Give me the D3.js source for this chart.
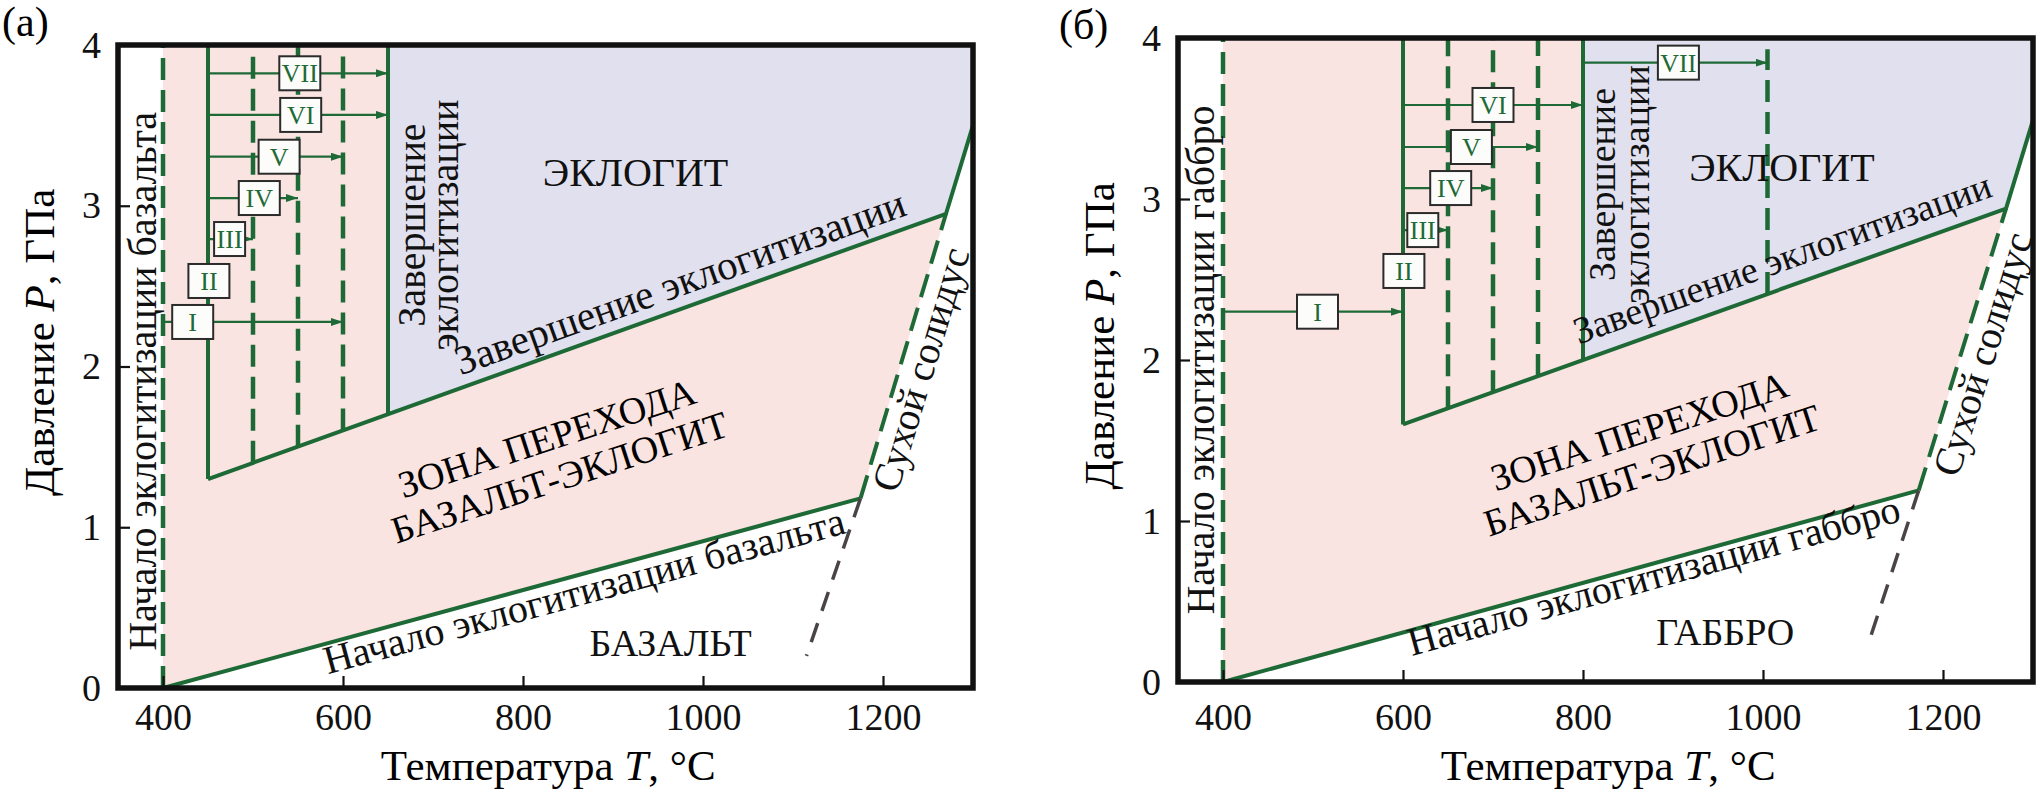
<!DOCTYPE html>
<html><head><meta charset="utf-8">
<script src="https://cdn.jsdelivr.net/npm/d3@7"></script>
<style>
body{margin:0;background:#fff;}
svg{display:block;}
text{font-family:"Liberation Serif","Times New Roman",serif;}
</style></head><body>
<svg id="chart" width="2041" height="806"></svg>
<script>
// ================= DATA =================
const xTicks = [400, 600, 800, 1000, 1200];
const yTicks = [0, 1, 2, 3, 4];
const tDomain = [350, 1300];
const pDomain = [0, 4];
const stepLabels = ["I", "II", "III", "IV", "V", "VI", "VII"];

// Panel (а) — basalt
const aOnsetT = 400;
const aStartLine = [[400, 0], [1175, 1.18]];
const aEndLine = [[450, 1.3], [1270, 2.95], [1300, 3.5]];
const aWetSolidus = [[1175, 1.18], [1270, 2.95]];
const aDrySolidus = [[1175, 1.18], [1115, 0.2]];
const aBoxSolidT = [450, 650];
const aBoxDashedT = [500, 550, 600];
const aStepP = [2.277, 2.532, 2.793, 3.048, 3.305, 3.565, 3.824];
const aStepFrom = [400, null, 450, 450, 450, 450, 450];
const aStepTo = [600, null, 500, 550, 600, 650, 650];
const aStepBoxT = [433, 451, 474, 507, 529, 553, 552];

// Panel (б) — gabbro
const bOnsetT = 400;
const bStartLine = [[400, 0], [1173, 1.19]];
const bEndLine = [[600, 1.6], [1270, 2.94], [1300, 3.49]];
const bWetSolidus = [[1173, 1.19], [1270, 2.94]];
const bDrySolidus = [[1173, 1.19], [1116, 0.22]];
const bBoxSolidT = [600, 800];
const bBoxDashedT = [650, 700, 750];
const bExtraDashedT = [1005];
const bExtraDashedTopP = [3.93];
const bStepP = [2.30, 2.553, 2.807, 3.068, 3.323, 3.584, 3.847];
const bStepFrom = [400, null, 600, 600, 600, 600, 800];
const bStepTo = [600, null, 650, 700, 750, 800, 1005];
const bStepBoxT = [505, 601, 622, 653, 676, 700, 906];

// ================= STYLE / LAYOUT =================
const GREEN = "#1e6a37", PINK = "#fae4e1", LAV = "#e1e0ee", GRAY = "#4b4446", INK = "#111";

const panels = [
  {
    left: 118, right: 973, bottom: 688, top: 45, xPad: 15,
    tag: "(а)", tagX: 2, tagY: 36,
    onsetT: aOnsetT, startLine: aStartLine, endLine: aEndLine, wet: aWetSolidus, dry: aDrySolidus,
    boxSolidT: aBoxSolidT, boxDashedT: aBoxDashedT, extraT: [], extraTop: [],
    stepP: aStepP, stepFrom: aStepFrom, stepTo: aStepTo, stepBoxT: aStepBoxT,
    rock: "БАЗАЛЬТ", rockAt: [964, 0.2], eclAt: [925, 3.12],
    onsetText: "Начало эклогитизации базальта", onsetPc: 1.907, onsetDx: -7,
    completeVertPc: 2.88, completeVertDx: [37, 70], completeVertSize: 40,
    completeDiagT: 984, completeDiagOff: -12, completeDiagSize: 41,
    startDiagT: 863, startDiagOff: 30,
    zoneAt: [838, 1.356], solidusT: 1220
  },
  {
    left: 1178, right: 2033, bottom: 682, top: 38, xPad: 21,
    tag: "(б)", tagX: 1059, tagY: 39,
    onsetT: bOnsetT, startLine: bStartLine, endLine: bEndLine, wet: bWetSolidus, dry: bDrySolidus,
    boxSolidT: bBoxSolidT, boxDashedT: bBoxDashedT, extraT: bExtraDashedT, extraTop: bExtraDashedTopP,
    stepP: bStepP, stepFrom: bStepFrom, stepTo: bStepTo, stepBoxT: bStepBoxT,
    rock: "ГАББРО", rockAt: [958, 0.23], eclAt: [1021, 3.11],
    onsetText: "Начало эклогитизации габбро", onsetPc: 2.0, onsetDx: -9,
    completeVertPc: 3.09, completeVertDx: [32, 66], completeVertSize: 38,
    completeDiagT: 1032, completeDiagOff: -16, completeDiagSize: 38,
    startDiagT: 875, startDiagOff: 25,
    zoneAt: [874, 1.36], solidusT: 1222
  }
];

const svg = d3.select("#chart");
svg.append("rect").attr("width", 2041).attr("height", 806).attr("fill", "#fff");
const defs = svg.append("defs");
defs.append("marker").attr("id", "arr").attr("viewBox", "0 0 12 8")
  .attr("refX", 12).attr("refY", 4).attr("markerWidth", 12).attr("markerHeight", 8)
  .attr("markerUnits", "userSpaceOnUse").attr("orient", "auto")
  .append("path").attr("d", "M0,0L12,4L0,8Z").attr("fill", GREEN);

function interp(line, t) {
  for (let i = 0; i < line.length - 1; i++) {
    const [t0, p0] = line[i], [t1, p1] = line[i + 1];
    if (t >= t0 && t <= t1) return p0 + (p1 - p0) * (t - t0) / (t1 - t0);
  }
  const [t0, p0] = line[0], [t1, p1] = line[1];
  return p0 + (p1 - p0) * (t - t0) / (t1 - t0);
}

function drawPanel(c) {
  const sx = d3.scaleLinear().domain(tDomain).range([c.left, c.right]);
  const sy = d3.scaleLinear().domain(pDomain).range([c.bottom, c.top]);
  const g = svg.append("g");
  const path = d3.line().x(d => sx(d[0])).y(d => sy(d[1]));
  const endAt = t => interp(c.endLine, t);
  const tR = c.boxSolidT[1];
  const corner = c.wet[1];

  // regions
  const pinkPoly = [c.startLine[0], [c.onsetT, pDomain[1]], [tR, pDomain[1]], [tR, endAt(tR)], corner, c.wet[0]];
  const lavPoly = [[tR, pDomain[1]], [tDomain[1], pDomain[1]], c.endLine[c.endLine.length - 1], corner, [tR, endAt(tR)]];
  g.append("path").attr("d", path(pinkPoly) + "Z").attr("fill", PINK);
  g.append("path").attr("d", path(lavPoly) + "Z").attr("fill", LAV);

  const solid = (pts, w = 4) => g.append("path").attr("d", path(pts)).attr("fill", "none")
    .attr("stroke", GREEN).attr("stroke-width", w).attr("stroke-linejoin", "round");
  const dashed = (pts, col = GREEN, w = 4.5, dash = "22,10") => g.append("path").attr("d", path(pts))
    .attr("fill", "none").attr("stroke", col).attr("stroke-width", w).attr("stroke-dasharray", dash);

  dashed([[c.onsetT, pDomain[0]], [c.onsetT, pDomain[1]]]);
  c.boxDashedT.forEach(t => dashed([[t, endAt(t)], [t, pDomain[1]]]));
  c.extraT.forEach((t, i) => dashed([[t, endAt(t)], [t, c.extraTop[i]]]));
  c.boxSolidT.forEach(t => solid([[t, endAt(t)], [t, pDomain[1]]]));
  solid(c.startLine);
  solid(c.endLine);
  dashed(c.wet, GREEN, 4, "24,11");
  dashed(c.dry, GRAY, 3.5, "20,13");

  // step arrows
  stepLabels.forEach((lab, i) => {
    if (c.stepFrom[i] == null) return;
    g.append("path").attr("d", path([[c.stepFrom[i], c.stepP[i]], [c.stepTo[i], c.stepP[i]]]))
      .attr("stroke", GREEN).attr("stroke-width", 2.2).attr("fill", "none")
      .attr("marker-end", "url(#arr)");
  });
  stepLabels.forEach((lab, i) => {
    const w = lab === "III" ? 31 : 41, h = 34;
    const cx = sx(c.stepBoxT[i]), cy = sy(c.stepP[i]);
    g.append("rect").attr("x", cx - w / 2).attr("y", cy - h / 2).attr("width", w).attr("height", h)
      .attr("fill", "#fcfcfa").attr("stroke", "#2b2b2b").attr("stroke-width", 2);
    g.append("text").attr("x", cx).attr("y", cy + 9).attr("text-anchor", "middle")
      .attr("font-size", 26).attr("fill", GREEN)
      .attr("textLength", lab === "III" ? 26 : null).attr("lengthAdjust", "spacingAndGlyphs")
      .text(lab);
  });

  // axes
  const fmt = d3.format("d");
  const xa = g.append("g").attr("transform", `translate(0,${c.bottom})`)
    .call(d3.axisBottom(sx).tickValues(xTicks).tickFormat(fmt).tickSizeInner(-12).tickSizeOuter(0).tickPadding(c.xPad));
  const ya = g.append("g").attr("transform", `translate(${c.left},0)`)
    .call(d3.axisLeft(sy).tickValues(yTicks).tickFormat(fmt).tickSizeInner(-12).tickSizeOuter(0).tickPadding(17));
  [xa, ya].forEach(a => {
    a.select(".domain").remove();
    a.attr("font-family", "Liberation Serif, serif").attr("font-size", 38).attr("color", INK);
    a.selectAll("line").attr("stroke-width", 2.2);
  });
  g.append("rect").attr("x", c.left).attr("y", c.top).attr("width", c.right - c.left)
    .attr("height", c.bottom - c.top).attr("fill", "none").attr("stroke", INK).attr("stroke-width", 5.5);

  // axis titles
  const xt = g.append("text").attr("x", sx(828)).attr("y", 780).attr("text-anchor", "middle").attr("font-size", 43);
  xt.append("tspan").text("Температура ");
  xt.append("tspan").attr("font-style", "italic").text("T");
  xt.append("tspan").text(", °C");
  const yt = g.append("text").attr("transform", `translate(${c.left - 64},${sy(2.15)}) rotate(-90)`)
    .attr("text-anchor", "middle").attr("font-size", 43);
  yt.append("tspan").text("Давление ");
  yt.append("tspan").attr("font-style", "italic").text("P");
  yt.append("tspan").text(", ГПа");
  g.append("text").attr("x", c.tagX).attr("y", c.tagY).attr("font-size", 42).text(c.tag);

  // annotations
  const txt = (x, y, s, size, rot = 0) => g.append("text")
    .attr("transform", `translate(${x},${y}) rotate(${rot})`).attr("text-anchor", "middle")
    .attr("font-size", size).attr("fill", INK).text(s);
  txt(sx(c.eclAt[0]), sy(c.eclAt[1]), "ЭКЛОГИТ", 40);
  txt(sx(c.rockAt[0]), sy(c.rockAt[1]), c.rock, 38);
  txt(sx(c.onsetT) + c.onsetDx, sy(c.onsetPc), c.onsetText, 40, -90);
  txt(sx(tR) + c.completeVertDx[0], sy(c.completeVertPc), "Завершение", c.completeVertSize, -90);
  txt(sx(tR) + c.completeVertDx[1], sy(c.completeVertPc), "эклогитизации", c.completeVertSize, -90);

  function along(seg, tC, off, s, size) {
    const [p0, p1] = seg;
    const x0 = sx(p0[0]), y0 = sy(p0[1]), x1 = sx(p1[0]), y1 = sy(p1[1]);
    const len = Math.hypot(x1 - x0, y1 - y0);
    const ux = (x1 - x0) / len, uy = (y1 - y0) / len;
    const nx = -uy, ny = ux;
    const f = (tC - p0[0]) / (p1[0] - p0[0]);
    const ang = Math.atan2(uy, ux) * 180 / Math.PI;
    txt(x0 + f * (x1 - x0) + nx * off, y0 + f * (y1 - y0) + ny * off, s, size, ang);
  }
  along([c.endLine[0], corner], c.completeDiagT, c.completeDiagOff, "Завершение эклогитизации", c.completeDiagSize);
  along(c.startLine, c.startDiagT, c.startDiagOff, c.onsetText, 40);
  along(c.wet, c.solidusT, 34, "Сухой солидус", 40);

  const zg = g.append("g").attr("transform", `translate(${sx(c.zoneAt[0])},${sy(c.zoneAt[1])}) rotate(-18)`);
  zg.append("text").attr("y", -20.5).attr("text-anchor", "middle").attr("font-size", 38).text("ЗОНА ПЕРЕХОДА");
  zg.append("text").attr("y", 20.5).attr("text-anchor", "middle").attr("font-size", 38).text("БАЗАЛЬТ-ЭКЛОГИТ");
}

panels.forEach(drawPanel);
</script>
</body></html>
